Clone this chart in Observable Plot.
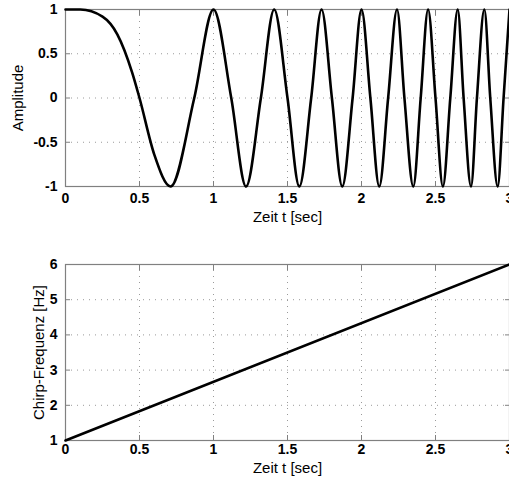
<!DOCTYPE html>
<html>
<head>
<meta charset="utf-8">
<script src="https://cdn.jsdelivr.net/npm/d3@7"></script>
<script src="https://cdn.jsdelivr.net/npm/@observablehq/plot@0.6"></script>
<style>
  html, body { margin: 0; padding: 0; background: #fff; }
  #chart { width: 509px; height: 483px; overflow: hidden; }
  #chart svg { display: block; }
</style>
</head>
<body>
<div id="chart"></div>
<script>
// Top panel: chirp signal, peaks / troughs / zero crossings
const chirpTime = [0, 0.1, 0.25, 0.35, 0.45, 0.5, 0.6, 0.71, 0.87, 1.0, 1.12, 1.22, 1.32, 1.41, 1.5, 1.58, 1.66, 1.73, 1.8, 1.87, 1.94, 2.0, 2.06, 2.12, 2.18, 2.24, 2.29, 2.35, 2.4, 2.45, 2.5, 2.55, 2.6, 2.65, 2.69, 2.74, 2.78, 2.83, 2.87, 2.92, 2.96, 3.0];
const chirpAmp  = [1, 1.0, 0.92, 0.72, 0.29, 0, -0.64, -1, 0, 1, 0, -1, 0, 1, 0, -1, 0, 1, 0, -1, 0, 1, 0, -1, 0, 1, 0, -1, 0, 1, 0, -1, 0, 1, 0, -1, 0, 1, 0, -1, 0, 1];

// Bottom panel: chirp frequency
const freqTime = [0, 3];
const freqHz   = [1, 6];

const xTicks = [0, 0.5, 1, 1.5, 2, 2.5, 3];
const ampTicks = [-1, -0.5, 0, 0.5, 1];
const freqTicks = [1, 2, 3, 4, 5, 6];

const xLabel = "Zeit t [sec]";
const ampLabel = "Amplitude";
const freqLabel = "Chirp-Frequenz [Hz]";

const chirpRows = chirpTime.map((t, i) => ({t, a: chirpAmp[i]}));
const freqRows = freqTime.map((t, i) => ({t, f: freqHz[i]}));

const FONT = "'Liberation Sans', Arial, Helvetica, sans-serif";
const fmt = d => String(d);
const grid = {stroke: "#9a9a9a", strokeOpacity: 1, strokeDasharray: "1,5", strokeWidth: 1};

function panel({data, y, yDomain, yTicks, yLabel, height, marginTop, marginBottom, xTickPad, xLabelDy, yLabelDx, curve}) {
  return Plot.plot({
    width: 509,
    height,
    marginLeft: 65,
    marginRight: 0,
    marginTop,
    marginBottom,
    style: {fontFamily: FONT, color: "#000", background: "#fff", overflow: "visible"},
    x: {domain: [0, 3], ticks: xTicks},
    y: {domain: yDomain, ticks: yTicks},
    marks: [
      Plot.gridX(xTicks.slice(1, -1), grid),
      Plot.gridY(yTicks.slice(1, -1), grid),
      Plot.frame({stroke: "#808080", strokeWidth: 1.2}),
      // inward ticks
      Plot.axisX(xTicks, {anchor: "bottom", tickSize: -5, tickFormat: () => "", label: null, stroke: "#808080"}),
      Plot.axisX(xTicks, {anchor: "top", tickSize: -5, tickFormat: () => "", label: null, stroke: "#808080"}),
      Plot.axisY(yTicks, {anchor: "left", tickSize: -5, tickFormat: () => "", label: null, stroke: "#808080"}),
      Plot.axisY(yTicks, {anchor: "right", tickSize: -5, tickFormat: () => "", label: null, stroke: "#808080"}),
      // tick labels
      Plot.axisX(xTicks, {anchor: "bottom", tickSize: 0, tickPadding: xTickPad, tickFormat: fmt, label: null, fontWeight: "bold", fontSize: 14}),
      Plot.axisY(yTicks, {anchor: "left", tickSize: 0, tickPadding: 8, tickFormat: fmt, label: null, fontWeight: "bold", fontSize: 14}),
      // axis titles
      Plot.text([xLabel], {frameAnchor: "bottom", lineAnchor: "middle", textAnchor: "middle", dy: xLabelDy, fontSize: 15, fill: "#000"}),
      Plot.text([yLabel], {frameAnchor: "left", textAnchor: "middle", lineAnchor: "middle", dx: yLabelDx, rotate: -90, fontSize: 15, fill: "#000"}),
      Plot.line(data, {x: "t", y, stroke: "#000", strokeWidth: 2.6, curve})
    ]
  });
}

const topPanel = panel({data: chirpRows, y: "a", yDomain: [-1, 1], yTicks: ampTicks, yLabel: ampLabel,
  height: 240, marginTop: 9, marginBottom: 54, xTickPad: 7, xLabelDy: 31, yLabelDx: -47, curve: "monotone-x"});
const bottomPanel = panel({data: freqRows, y: "f", yDomain: [1, 6], yTicks: freqTicks, yLabel: freqLabel,
  height: 243, marginTop: 24, marginBottom: 43, xTickPad: 4, xLabelDy: 28, yLabelDx: -26, curve: "linear"});

const root = document.getElementById("chart");
root.appendChild(topPanel);
root.appendChild(bottomPanel);
</script>
</body>
</html>
